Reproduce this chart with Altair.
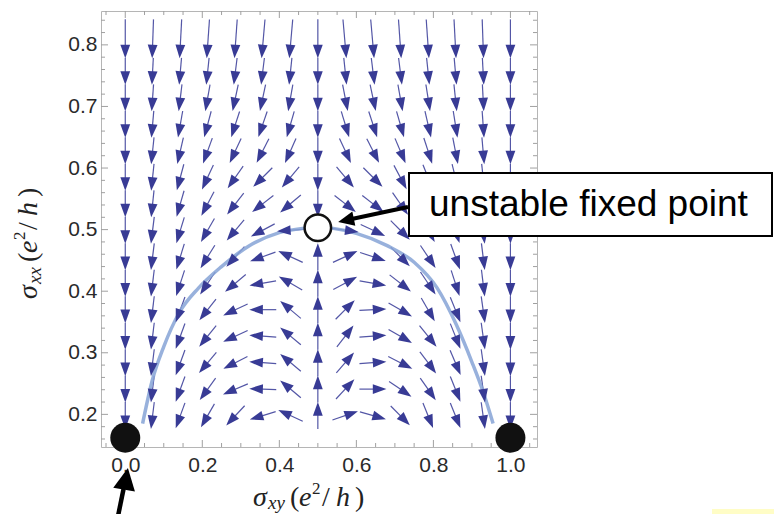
import math
import altair as alt
import pandas as pd

# ---------------- data ----------------
col_x = [0.0, 0.071, 0.143, 0.214, 0.286, 0.357, 0.429, 0.5,
         0.571, 0.643, 0.714, 0.786, 0.857, 0.929, 1.0]
row_y = [0.800, 0.757, 0.714, 0.671, 0.628, 0.585, 0.542, 0.499,
         0.456, 0.413, 0.370, 0.327, 0.284, 0.241, 0.198]
# arrow direction in degrees (0 = right, 90 = up, -90 = down), one row per row_y
angles = [
    [-90, -92, -93, -94, -94, -95, -95, -90, -85, -85, -86, -86, -87, -88, -90],
    [-90, -93, -95, -96, -97, -97, -96, -90, -84, -83, -83, -84, -85, -87, -90],
    [-90, -94, -97, -100, -102, -102, -100, -90, -79, -78, -80, -81, -84, -87, -90],
    [-90, -95, -100, -105, -108, -109, -106, -90, -73, -72, -74, -77, -81, -86, -90],
    [-90, -96, -103, -110, -115, -117, -114, -90, -65, -63, -67, -72, -79, -85, -90],
    [-90, -96, -105, -115, -125, -135, -130, -90, -50, -45, -62, -68, -76, -84, -90],
    [-90, -96, -106, -118, -128, -142, -140, -90, -38, -38, -55, -63, -74, -84, -90],
    [-90, -97, -107, -120, -130, -152, -176, None, -8, -25, -45, -60, -72, -83, -90],
    [-90, -97, -107, -122, -132, -160, 155, 90, 25, -18, -45, -56, -70, -83, -90],
    [-90, -97, -108, -124, -140, -170, 150, 90, 28, -10, -38, -56, -72, -83, -90],
    [-90, -97, -110, -128, -155, 180, 140, 90, 45, 3, -30, -60, -68, -82, -90],
    [-90, -97, -110, -129, -155, 176, 140, 90, 52, 4, -30, -51, -68, -82, -90],
    [-90, -97, -110, -130, -153, 176, 140, 90, 49, 4, -27, -53, -67, -82, -90],
    [-90, -97, -110, -126, -157, 178, 140, 90, 47, 0, -34, -55, -68, -82, -90],
    [-90, -97, -110, -120, -133, -163, 155, 90, 19, -16, -45, -68, -68, -82, -90],
]

curve_x = [0.045, 0.07, 0.10, 0.14, 0.19, 0.25, 0.32, 0.40, 0.46, 0.50,
           0.54, 0.60, 0.68, 0.75, 0.81, 0.86, 0.90, 0.93, 0.955]
curve_y = [0.185, 0.255, 0.31, 0.365, 0.405, 0.44, 0.473, 0.495, 0.502, 0.504,
           0.502, 0.494, 0.474, 0.447, 0.405, 0.345, 0.285, 0.235, 0.185]

stable_x = [0.0, 1.0]
stable_y = [0.162, 0.162]
unstable_x = [0.5]
unstable_y = [0.503]

x_labels = [0.0, 0.2, 0.4, 0.6, 0.8, 1.0]
y_labels = [0.2, 0.3, 0.4, 0.5, 0.6, 0.7, 0.8]

# ---------------- layout / style ----------------
X_DOM = [-0.063, 1.069]
Y_DOM = [0.147, 0.855]
W = H = 436
SX = W / (X_DOM[1] - X_DOM[0])
SY = H / (Y_DOM[1] - Y_DOM[0])
ARROW_LEN = 27.0
HEAD_S = 6.8          # half-length of arrow head in px
HEAD_PATH = "M0,-1L0.72,1L-0.72,1Z"
SHAFT_COLOR = "#5356a6"
HEAD_COLOR = "#383b95"
TICK_COLOR = "#a0a0a0"
SERIF = "Liberation Serif"
SANS = "Liberation Sans"

xs = alt.Scale(domain=X_DOM, nice=False, zero=False)
ys = alt.Scale(domain=Y_DOM, nice=False, zero=False)
XAX = alt.Axis(values=x_labels, format=".1f", ticks=False, domain=False, grid=False,
               labelFontSize=21, labelFont=SANS, labelColor="#2a2a2a", labelPadding=7,
               title=None)
YAX = alt.Axis(values=y_labels, format=".1f", ticks=False, domain=False, grid=False,
               labelFontSize=21, labelFont=SANS, labelColor="#2a2a2a", labelPadding=4,
               title=None)


def X(f):
    return alt.X(f, scale=xs, axis=XAX, title=None)


def Y(f):
    return alt.Y(f, scale=ys, axis=YAX, title=None)


recs = []
for j, yv in enumerate(row_y):
    for i, xv in enumerate(col_x):
        a = angles[j][i]
        if a is None:
            continue
        r = math.radians(a)
        ux, uy = math.cos(r), math.sin(r)
        half = ARROW_LEN / 2
        lead = 12.0 if j == 0 else 0.0
        tip_x, tip_y = xv + half * ux / SX, yv + half * uy / SY
        tail_x, tail_y = xv - (half + lead) * ux / SX, yv - (half + lead) * uy / SY
        hx, hy = tip_x - HEAD_S * ux / SX, tip_y - HEAD_S * uy / SY
        recs.append(dict(x=tail_x, y=tail_y, x2=hx, y2=hy, hx=hx, hy=hy,
                         rot=(90 - a) % 360))
arrows = pd.DataFrame(recs)

one = pd.DataFrame({"k": [0]})

shafts = alt.Chart(arrows).mark_rule(color=SHAFT_COLOR, strokeWidth=1.2).encode(
    x=X("x:Q"), y=Y("y:Q"), x2="x2:Q", y2="y2:Q",
)

heads = alt.Chart(arrows).mark_point(
    shape=HEAD_PATH, filled=True, size=(2 * HEAD_S) ** 2, color=HEAD_COLOR,
    opacity=1, strokeWidth=0,
).encode(
    x=X("hx:Q"), y=Y("hy:Q"),
    angle=alt.Angle("rot:Q", scale=None),
)

curve = alt.Chart(pd.DataFrame({"x": curve_x, "y": curve_y})).mark_line(
    color="#86a3d6", strokeWidth=3.5, opacity=0.85, interpolate="monotone"
).encode(x=X("x:Q"), y=Y("y:Q"))

stable = alt.Chart(pd.DataFrame({"x": stable_x, "y": stable_y})).mark_circle(
    size=900, color="#111111", opacity=1
).encode(x=X("x:Q"), y=Y("y:Q"))

unstable = alt.Chart(pd.DataFrame({"x": unstable_x, "y": unstable_y})).mark_point(
    shape="circle", size=700, filled=True, fill="white", stroke="#111111",
    strokeWidth=2.5, opacity=1
).encode(x=X("x:Q"), y=Y("y:Q"))


def ticks_x(vals, length, bottom):
    y0, y1 = (H, H - length) if bottom else (0, length)
    return alt.Chart(pd.DataFrame({"v": vals})).mark_rule(
        color=TICK_COLOR, strokeWidth=1).encode(
        x=X("v:Q"), y=alt.value(y0), y2=alt.value(y1))


def ticks_y(vals, length, left):
    x0, x1 = (0, length) if left else (W, W - length)
    return alt.Chart(pd.DataFrame({"v": vals})).mark_rule(
        color=TICK_COLOR, strokeWidth=1).encode(
        y=Y("v:Q"), x=alt.value(x0), x2=alt.value(x1))


x_minor = [round(-0.05 + 0.05 * k, 2) for k in range(23)]
x_minor = [v for v in x_minor if abs(v / 0.2 - round(v / 0.2)) > 1e-6]
y_minor = [round(0.16 + 0.02 * k, 2) for k in range(35)]
y_minor = [v for v in y_minor if abs(v * 10 - round(v * 10)) > 1e-6]

tick_layers = [
    ticks_x(x_labels, 7, True), ticks_x(x_minor, 4, True),
    ticks_x(x_labels, 7, False), ticks_x(x_minor, 4, False),
    ticks_y(y_labels, 7, True), ticks_y(y_minor, 4, True),
    ticks_y(y_labels, 7, False), ticks_y(y_minor, 4, False),
]


def txt(s, x, y, size, font=SERIF, style="italic", angle=0, color="#222222"):
    return alt.Chart(one).mark_text(
        text=s, align="left", baseline="alphabetic", fontSize=size, font=font,
        fontStyle=style, angle=angle, color=color,
    ).encode(x=alt.value(x), y=alt.value(y))


# x axis title  sigma_xy (e^2/h)
xb = 495
xtitle = [
    txt("σ", 152, xb, 28), txt("xy", 167, xb + 3, 19),
    txt("(", 189, xb, 28, style="normal"), txt("e", 198, xb, 28),
    txt("2", 211, xb - 12, 17, style="normal"), txt("/", 221, xb, 28, style="normal"),
    txt("h", 235, xb, 28), txt(")", 254, xb, 28, style="normal"),
]
# y axis title  sigma_xx (e^2/h), rotated
yb = -64
y0 = 288
ytitle = [
    txt("σ", yb, y0, 28, angle=270), txt("xx", yb + 4, y0 - 15, 19, angle=270),
    txt("(", yb, y0 - 37, 28, style="normal", angle=270), txt("e", yb, y0 - 46, 28, angle=270),
    txt("2", yb - 12, y0 - 59, 17, style="normal", angle=270),
    txt("/", yb, y0 - 69, 28, style="normal", angle=270),
    txt("h", yb, y0 - 83, 28, angle=270), txt(")", yb, y0 - 102, 28, style="normal", angle=270),
]

# annotation box
box = alt.Chart(one).mark_rect(fill="white", stroke="black", strokeWidth=2).encode(
    x=alt.value(308), x2=alt.value(671), y=alt.value(162), y2=alt.value(225))
box_text = alt.Chart(one).mark_text(
    text="unstable fixed point", align="left", baseline="middle", fontSize=37,
    font=SANS, color="black").encode(x=alt.value(328), y=alt.value(194))

# arrow from box to unstable point
ann_line = alt.Chart(one).mark_rule(color="black", strokeWidth=4).encode(
    x=alt.value(307), y=alt.value(196), x2=alt.value(246), y2=alt.value(209))
ann_head = alt.Chart(one).mark_point(
    shape="M0,-1L0.9,1L-0.9,1Z", filled=True, size=256, color="black", opacity=1,
    strokeWidth=0, angle=258).encode(x=alt.value(245), y=alt.value(209.3))

# arrow from below pointing at 0.0
low_line = alt.Chart(one).mark_rule(color="black", strokeWidth=4.5).encode(
    x=alt.value(16), y=alt.value(510), x2=alt.value(25), y2=alt.value(466))
low_head = alt.Chart(one).mark_point(
    shape="M0,-1L1,1L-1,1Z", filled=True, size=484, color="black", opacity=1,
    strokeWidth=0, angle=10).encode(x=alt.value(25), y=alt.value(467.8))

yellow = alt.Chart(one).mark_rect(fill="#fffdc6", strokeWidth=0).encode(
    x=alt.value(611), x2=alt.value(690), y=alt.value(498), y2=alt.value(510))

chart = alt.layer(
    *tick_layers, shafts, curve, heads, stable, unstable,
    ann_line, ann_head, box, box_text, low_line, low_head, yellow,
    *xtitle, *ytitle,
).properties(
    width=W, height=H,
    autosize=alt.AutoSizeParams(type="none"),
    padding={"left": 93, "top": 3, "right": 237, "bottom": 67},
    background="white",
).configure_view(stroke="#b5b5b5", strokeWidth=1)

chart.save("out.html", embed_options={"renderer": "svg", "actions": False})
